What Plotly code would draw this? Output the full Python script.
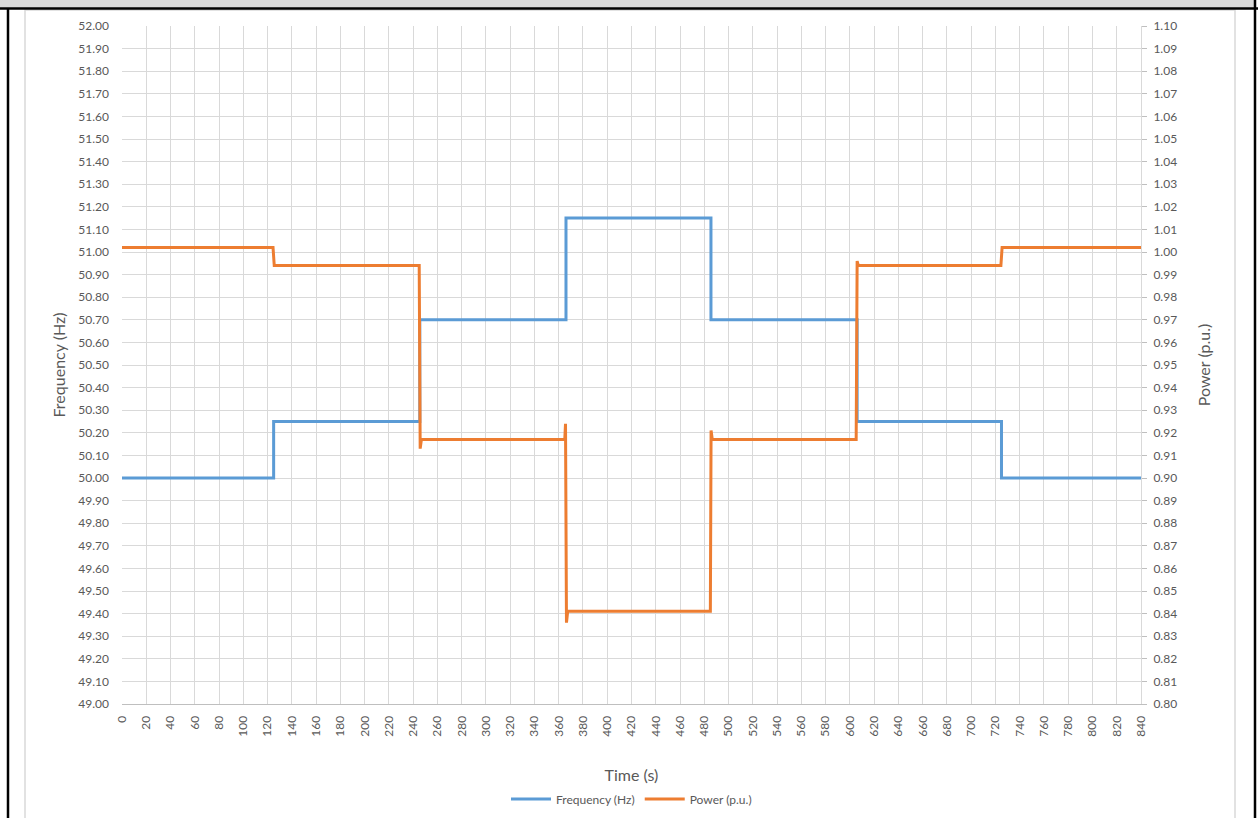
import plotly.graph_objects as go

# ---- data ----
freq_time = [0, 125, 125, 245.5, 245.5, 366, 366, 485.5, 485.5, 606, 606, 725, 725, 840]
freq_vals = [50.00, 50.00, 50.25, 50.25, 50.70, 50.70, 51.15, 51.15, 50.70, 50.70, 50.25, 50.25, 50.00, 50.00]

power_time = [0, 124.5, 125.5, 245, 245.8, 246.8, 365, 365.6, 366.4, 367.4,
              485, 485.6, 486.6, 605.2, 606, 607, 724.5, 725.5, 840]
power_vals = [1.002, 1.002, 0.994, 0.994, 0.913, 0.917, 0.917, 0.924, 0.836, 0.841,
              0.841, 0.921, 0.917, 0.917, 0.996, 0.994, 0.994, 1.002, 1.002]

x_ticks = list(range(0, 841, 20))
freq_ticks = [49.0 + 0.1 * i for i in range(31)]
power_ticks = [0.80 + 0.01 * i for i in range(31)]

FONT = "Lato"
TXT = "#595959"
GRID = "#d9d9d9"

fig = go.Figure()
fig.add_trace(go.Scatter(x=freq_time, y=freq_vals, mode="lines", name="Frequency (Hz)",
                         line=dict(color="#5b9bd5", width=3), yaxis="y"))
fig.add_trace(go.Scatter(x=power_time, y=power_vals, mode="lines", name="Power (p.u.)",
                         line=dict(color="#ed7d31", width=3), yaxis="y2"))

# plot area in pixels: x 122..1141, y 26..704
L, R, T, B = 122, 1141, 26, 704
W, H = R - L, B - T
def px(x):
    return (x - L) / W
def py(y):
    return (B - y) / H

shapes = [
    # outer chart frame (light gray)
    dict(type="rect", xref="paper", yref="paper", x0=px(25), x1=px(1235), y0=py(830), y1=py(10),
         line=dict(color="#d9d9d9", width=1.5), fillcolor="rgba(0,0,0,0)", layer="below"),
    # gray top bar
    dict(type="rect", xref="paper", yref="paper", x0=px(-5), x1=px(1254), y0=py(8), y1=py(-5),
         line=dict(width=0), fillcolor="#d9d9d9"),
    # black border lines
    dict(type="line", xref="paper", yref="paper", x0=px(0), x1=px(1258), y0=py(8.5), y1=py(8.5),
         line=dict(color="black", width=2.5)),
    dict(type="line", xref="paper", yref="paper", x0=px(8), x1=px(8), y0=py(8), y1=py(830),
         line=dict(color="black", width=2.5)),
    dict(type="line", xref="paper", yref="paper", x0=px(1255), x1=px(1255), y0=py(0), y1=py(830),
         line=dict(color="black", width=2.5)),
]

fig.update_layout(
    width=1258, height=818,
    margin=dict(l=L, r=1258 - R, t=T, b=818 - B, pad=0, autoexpand=False),
    paper_bgcolor="white", plot_bgcolor="white",
    font=dict(family=FONT, color=TXT, size=12),
    shapes=shapes,
    showlegend=True,
    legend=dict(orientation="h", x=0.5, xanchor="center", y=py(799), yanchor="middle",
                font=dict(size=12, color=TXT), itemwidth=40, traceorder="normal"),
    xaxis=dict(range=[0, 840], tickmode="array", tickvals=x_ticks, ticktext=[str(v) for v in x_ticks],
               tickangle=-90, showgrid=True, gridcolor=GRID, gridwidth=1,
               showline=True, linecolor="#bfbfbf", linewidth=1, zeroline=False,
               ticks="", ticklabelstandoff=6, tickfont=dict(size=12, color=TXT), automargin=False,
               title=dict(text="Time (s)", font=dict(size=16, color=TXT), standoff=34)),
    yaxis=dict(range=[49.0, 52.0], tickmode="array", tickvals=freq_ticks,
               ticktext=[f"{v:.2f}" for v in freq_ticks], showgrid=True, gridcolor=GRID, gridwidth=1,
               zeroline=False, showline=False, ticks="", ticklabelstandoff=12, automargin=False,
               tickfont=dict(size=12, color=TXT),
               title=dict(text="Frequency (Hz)", font=dict(size=16, color=TXT), standoff=8)),
    yaxis2=dict(range=[0.80, 1.10], overlaying="y", side="right", tickmode="array", tickvals=power_ticks,
                ticktext=[f"{v:.2f}" for v in power_ticks], showgrid=False, zeroline=False,
                showline=True, linecolor=GRID, linewidth=1, automargin=False,
                ticks="outside", ticklen=5, tickcolor="#bfbfbf", ticklabelstandoff=4,
                tickfont=dict(size=12, color=TXT),
                title=dict(text="Power (p.u.)", font=dict(size=16, color=TXT), standoff=22)),
)

fig.write_html("out.html", config={"displayModeBar": False},
               post_script="document.body.style.margin='0';")
